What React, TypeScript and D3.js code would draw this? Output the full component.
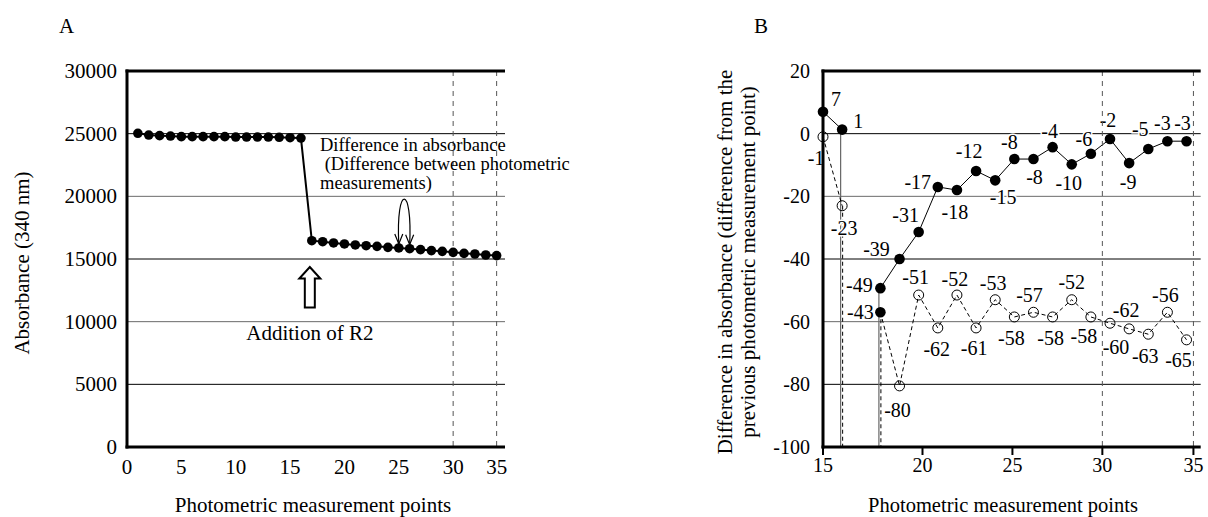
import React from 'react';
import * as d3 from 'd3';

const FONT = "'Liberation Serif', 'Times New Roman', Times, 'DejaVu Serif', serif";

// ---------- Panel A data ----------
const pointsA = [1, 2, 3, 4, 5, 6, 7, 8, 9, 10, 11, 12, 13, 14, 15, 16, 17, 18, 19, 20, 21, 22, 23, 24, 25, 26, 27, 28, 29, 30, 31, 32, 33, 34];
const absorbanceA = [
  25030, 24890, 24840, 24810, 24760, 24760, 24760, 24760, 24760, 24730, 24730, 24730, 24730, 24710, 24680, 24650,
  16460, 16380, 16280, 16200, 16120, 16060, 16010, 15930, 15880, 15820, 15750, 15670, 15610, 15530, 15450, 15400, 15320, 15270,
];
const yTicksA = [0, 5000, 10000, 15000, 20000, 25000, 30000];
const xTickValuesA = [0, 5, 10, 15, 20, 25, 30, 34];
const xTickLabelsA = ['0', '5', '10', '15', '20', '25', '30', '35'];
const dashedRefA = [30, 34];
const annotationA = ['Difference in absorbance', '\u00a0(Difference between photometric', 'measurements)'];
const arrowLabelA = 'Addition of R2';
const loopPointsA = [25, 26];
const additionPointA = 17;

// ---------- Panel B data ----------
const pointsB = [15, 16, 17, 18, 19, 20, 21, 22, 23, 24, 25, 26, 27, 28, 29, 30, 31, 32, 33, 34];
const diffSolidB = [7, 1.3, null, -49.3, -40, -31.4, -17, -18, -11.9, -14.9, -8.1, -8.1, -4.3, -9.8, -6.4, -1.7, -9.4, -4.9, -2.4, -2.4];
const labelsSolidB = ['7', '1', '', '-49', '-39', '-31', '-17', '-18', '-12', '-15', '-8', '-8', '-4', '-10', '-6', '-2', '-9', '-5', '-3', '-3'];
const diffDashedB = [-1, -23, null, -57, -80.5, -51.5, -62, -51.5, -62, -53, -58.5, -57, -58.5, -53, -58.5, -60.5, -62.3, -64, -57, -65.8];
const labelsDashedB = ['-1', '-23', '', '-43', '-80', '-51', '-62', '-52', '-61', '-53', '-58', '-57', '-58', '-52', '-58', '-60', '-62', '-63', '-56', '-65'];
const dashedFilledPointsB = [18];
const yTicksB = [20, 0, -20, -40, -60, -80, -100];
const xTickValuesB = [15, 20.2, 24.9, 29.6, 34.36];
const xTickLabelsB = ['15', '20', '25', '30', '35'];
const dashedRefB = [29.6, 34.36];

// label placement offsets (px) relative to the marker
const offSolidB: [number, number][] = [
  [13, -13], [16, -9], [0, 0], [-21, -3], [-23, -10], [-13, -17], [-20, -5], [-2, 22], [-7, -20], [8, 17],
  [-5, -17], [1, 18], [-3, -16], [-3, 19], [-7, -15], [-2, -19], [-1, 19], [-8, -20], [-5, -18], [-4, -18],
];
const offDashedB: [number, number][] = [
  [-7, 21], [2, 22], [0, 0], [-20, 0], [-2, 24], [-3, -18], [-1, 21], [-2, -16], [-2, 20], [-2, -17],
  [-3, 21], [-4, -17], [-2, 21], [0, -18], [-7, 19], [6, 24], [-3, -19], [-3, 22], [-2, -17], [-8, 20],
];

const W = 1208;
const H = 517;

function PanelA() {
  const x = d3.scaleLinear().domain([0, 34.77]).range([127, 505]);
  const y = d3.scaleLinear().domain([0, 30000]).range([447, 71]);
  const line = d3.line<number>().x((_, i) => x(pointsA[i])).y((d) => y(d));
  const xl = x(loopPointsA[0]);
  const xr = x(loopPointsA[1]);
  const yl = y(absorbanceA[pointsA.indexOf(loopPointsA[0])]) - 4;
  const yr = y(absorbanceA[pointsA.indexOf(loopPointsA[1])]) - 4;
  const topY = Math.min(yl, yr) - 60;
  const ax = x(additionPointA) - 2;
  const ay = y(15000) + 8;
  const arrowPts = [
    [ax, ay], [ax + 10.5, ay + 11.5], [ax + 5, ay + 11.5], [ax + 5, ay + 40.5],
    [ax - 5, ay + 40.5], [ax - 5, ay + 11.5], [ax - 10.5, ay + 11.5],
  ].map((p) => p.join(',')).join(' ');
  const barb = (tx: number, ty: number) => `M${tx - 4},${ty - 10} L${tx},${ty} L${tx + 4},${ty - 10}`;
  return (
    <g style={{ fontFamily: FONT }}>
      <text x={59} y={33} fontSize={21}>A</text>
      {yTicksA.filter((t) => t > 0 && t < 30000).map((t, i) => (
        <line key={t} x1={x(0)} x2={505} y1={y(t)} y2={y(t)} stroke={i % 2 === 0 ? '#000' : '#6a6a6a'} strokeWidth={1} />
      ))}
      {dashedRefA.map((v) => (
        <line key={v} x1={x(v)} x2={x(v)} y1={71} y2={447} stroke="#555" strokeWidth={1} strokeDasharray="5,5" />
      ))}
      <path d={line(absorbanceA) || ''} fill="none" stroke="#000" strokeWidth={2} />
      {absorbanceA.map((v, i) => (
        <circle key={i} cx={x(pointsA[i])} cy={y(v)} r={4.8} fill="#000" />
      ))}
      {annotationA.map((t, i) => (
        <text key={i} x={320} y={151 + i * 19} fontSize={18.5}>{t}</text>
      ))}
      <path d={`M${xl},${yl} C${xl - 3},${topY} ${xr + 3},${topY} ${xr},${yr}`} fill="none" stroke="#000" strokeWidth={1.2} />
      <path d={barb(xl, yl)} fill="none" stroke="#000" strokeWidth={1.2} />
      <path d={barb(xr, yr)} fill="none" stroke="#000" strokeWidth={1.2} />
      <polygon points={arrowPts} fill="#fff" stroke="#000" strokeWidth={2} strokeLinejoin="miter" />
      <text x={ax} y={340} fontSize={21} textAnchor="middle">{arrowLabelA}</text>
      {yTicksA.map((t) => (
        <text key={t} x={117} y={y(t)} fontSize={21} textAnchor="end" dominantBaseline="central">{t}</text>
      ))}
      {xTickValuesA.map((v, i) => (
        <text key={i} x={x(v)} y={467} fontSize={21} textAnchor="middle" dominantBaseline="central">{xTickLabelsA[i]}</text>
      ))}
      <text x={313} y={511.5} fontSize={21} textAnchor="middle">Photometric measurement points</text>
      <text transform={`translate(29,263) rotate(-90)`} fontSize={21} textAnchor="middle">Absorbance (340 nm)</text>
      <line x1={x(0)} x2={x(0)} y1={69.5} y2={448.5} stroke="#000" strokeWidth={3} />
      <line x1={x(0) - 1.5} x2={505} y1={71} y2={71} stroke="#000" strokeWidth={3} />
      <line x1={x(0) - 1.5} x2={505} y1={447} y2={447} stroke="#000" strokeWidth={3} />
    </g>
  );
}

function PanelB() {
  const x = d3.scaleLinear().domain([15, 34.74]).range([823, 1200.7]);
  const y = d3.scaleLinear().domain([-100, 20]).range([447, 71]);
  const lineGen = d3
    .line<number | null>()
    .defined((d) => d !== null)
    .x((_, i) => x(pointsB[i]))
    .y((d) => y(d as number));
  const breaks = (vals: (number | null)[]) => {
    const segs: { x: number; y: number }[] = [];
    vals.forEach((v, i) => {
      if (v === null) {
        if (i > 0 && vals[i - 1] !== null) segs.push({ x: x(pointsB[i - 1]), y: y(vals[i - 1] as number) });
        if (i < vals.length - 1 && vals[i + 1] !== null) segs.push({ x: x(pointsB[i + 1]), y: y(vals[i + 1] as number) });
      }
    });
    return segs;
  };
  const solidBreaks = breaks(diffSolidB);
  const dashedBreaks = breaks(diffDashedB);
  const halo = { stroke: '#fff', strokeWidth: 3, paintOrder: 'stroke' as const };
  return (
    <g style={{ fontFamily: FONT }}>
      <text x={754} y={33} fontSize={21}>B</text>
      {yTicksB.filter((t) => t < 20 && t > -100).map((t, i) => (
        <line key={t} x1={823} x2={1200.7} y1={y(t)} y2={y(t)} stroke={i % 2 === 0 ? '#000' : '#6a6a6a'} strokeWidth={1} />
      ))}
      {solidBreaks.map((s, i) => (
        <line key={'sb' + i} x1={s.x - 1.5} x2={s.x - 1.5} y1={s.y} y2={447} stroke="#666" strokeWidth={1.2} />
      ))}
      {dashedBreaks.map((s, i) => (
        <line key={'db' + i} x1={s.x + 0.5} x2={s.x + 0.5} y1={s.y} y2={447} stroke="#000" strokeWidth={1} strokeDasharray="4,3" />
      ))}
      <path d={lineGen(diffSolidB) || ''} fill="none" stroke="#000" strokeWidth={1} />
      <path d={lineGen(diffDashedB) || ''} fill="none" stroke="#000" strokeWidth={1} strokeDasharray="4,3" />
      {diffDashedB.map((v, i) =>
        v === null ? null : dashedFilledPointsB.includes(pointsB[i]) ? (
          <circle key={'dc' + i} cx={x(pointsB[i])} cy={y(v)} r={5.3} fill="#000" />
        ) : (
          <circle key={'dc' + i} cx={x(pointsB[i])} cy={y(v)} r={5} fill="none" stroke="#000" strokeWidth={1} />
        )
      )}
      {diffSolidB.map((v, i) =>
        v === null ? null : <circle key={'sc' + i} cx={x(pointsB[i])} cy={y(v)} r={5.3} fill="#000" />
      )}
      {diffSolidB.map((v, i) =>
        v === null ? null : (
          <text key={'sl' + i} x={x(pointsB[i]) + offSolidB[i][0]} y={y(v) + offSolidB[i][1]} fontSize={20}
            textAnchor="middle" dominantBaseline="central" {...halo}>{labelsSolidB[i]}</text>
        )
      )}
      {diffDashedB.map((v, i) =>
        v === null ? null : (
          <text key={'dl' + i} x={x(pointsB[i]) + offDashedB[i][0]} y={y(v) + offDashedB[i][1]} fontSize={20}
            textAnchor="middle" dominantBaseline="central" {...halo}>{labelsDashedB[i]}</text>
        )
      )}
      {dashedRefB.map((v) => (
        <line key={v} x1={x(v)} x2={x(v)} y1={71} y2={447} stroke="#555" strokeWidth={1} strokeDasharray="5,5" />
      ))}
      {yTicksB.map((t) => (
        <text key={t} x={810} y={y(t)} fontSize={20} textAnchor="end" dominantBaseline="central">{t}</text>
      ))}
      {xTickValuesB.map((v, i) => (
        <g key={i}>
          <line x1={x(v)} x2={x(v)} y1={447} y2={455} stroke="#000" strokeWidth={2} />
          <text x={x(v)} y={464.5} fontSize={20} textAnchor="middle" dominantBaseline="central">{xTickLabelsB[i]}</text>
        </g>
      ))}
      <text x={1003} y={511.5} fontSize={20.5} textAnchor="middle">Photometric measurement points</text>
      <text transform={`translate(732,262) rotate(-90)`} fontSize={21} textAnchor="middle">Difference in absorbance (difference from the</text>
      <text transform={`translate(755,262) rotate(-90)`} fontSize={21} textAnchor="middle">previous photometric measurement point)</text>
      <line x1={823} x2={823} y1={69.5} y2={448.5} stroke="#000" strokeWidth={3} />
      <line x1={821.5} x2={1200.7} y1={71} y2={71} stroke="#000" strokeWidth={3} />
      <line x1={821.5} x2={1200.7} y1={447} y2={447} stroke="#000" strokeWidth={3} />
    </g>
  );
}

export default function App() {
  return (
    <svg width={W} height={H} style={{ position: 'absolute', left: 0, top: 0, background: '#fff' }}>
      <rect width={W} height={H} fill="#fff" />
      <PanelA />
      <PanelB />
    </svg>
  );
}
